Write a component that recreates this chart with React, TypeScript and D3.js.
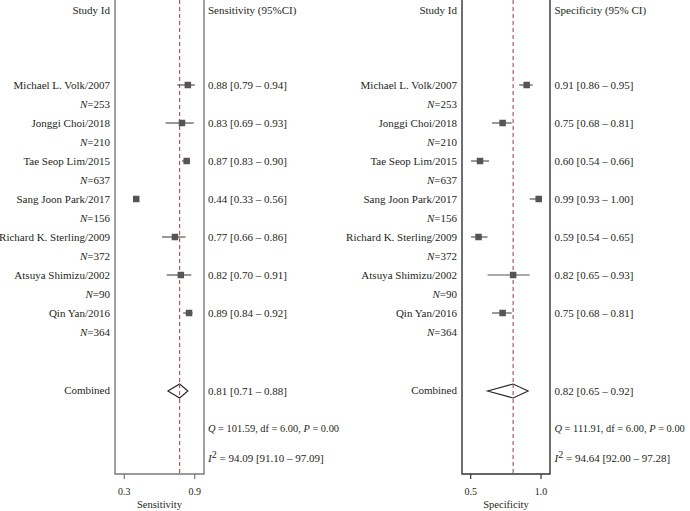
import React from "react";
import * as d3 from "d3";

const studies = [
  "Michael L. Volk/2007",
  "Jonggi Choi/2018",
  "Tae Seop Lim/2015",
  "Sang Joon Park/2017",
  "Richard K. Sterling/2009",
  "Atsuya Shimizu/2002",
  "Qin Yan/2016",
];
const sampleSizes = [253, 210, 637, 156, 372, 90, 364];

const sensitivity = [0.88, 0.83, 0.87, 0.44, 0.77, 0.82, 0.89];
const sensLower = [0.79, 0.69, 0.83, 0.33, 0.66, 0.7, 0.84];
const sensUpper = [0.94, 0.93, 0.9, 0.56, 0.86, 0.91, 0.92];
const sensWhiskerShown = [true, true, true, false, true, true, true];
const sensPooled = [0.81, 0.71, 0.88];
const sensHeterogeneity = [101.59, 6.0, 0.0];
const sensI2 = [94.09, 91.1, 97.09];
const sensTicks = [0.3, 0.9];

const specificity = [0.91, 0.75, 0.6, 0.99, 0.59, 0.82, 0.75];
const specLower = [0.86, 0.68, 0.54, 0.93, 0.54, 0.65, 0.68];
const specUpper = [0.95, 0.81, 0.66, 1.0, 0.65, 0.93, 0.81];
const specWhiskerShown = [true, true, true, true, true, true, true];
const specPooled = [0.82, 0.65, 0.92];
const specHeterogeneity = [111.91, 6.0, 0.0];
const specI2 = [94.64, 92.0, 97.28];
const specTicks = [0.5, 1.0];

const f2 = d3.format(".2f");
const FONT = "'Liberation Serif', 'DejaVu Serif', serif";
const TEXT = "#231f20";

type PanelProps = {
  est: number[];
  lo: number[];
  hi: number[];
  whisker: boolean[];
  pooled: number[];
  het: number[];
  i2: number[];
  ticks: number[];
  header: string;
  axisTitle: string;
  labelX: number;
  boxL: number;
  boxR: number;
  textX: number;
  axisRange: [number, number];
  markRange: [number, number];
  boxColor: string;
};

function Panel(p: PanelProps) {
  const dom: [number, number] = [p.ticks[0], p.ticks[p.ticks.length - 1]];
  const axisX = d3.scaleLinear().domain(dom).range(p.axisRange);
  const x = d3.scaleLinear().domain(dom).range(p.markRange);
  const rowY = d3.scaleLinear().domain([0, 1]).range([85, 123]);
  const bottom = 474;
  const combY = 391;
  const sq = 6.5;
  const pooledX = x(p.pooled[0]);
  const diamond = d3.line()([
    [x(p.pooled[1]), combY],
    [pooledX, combY - 7],
    [x(p.pooled[2]), combY],
    [pooledX, combY + 7],
  ]) + "Z";

  return (
    <g fontFamily={FONT} fill={TEXT}>
      <text x={p.labelX} y={14} fontSize={11} textAnchor="end">Study Id</text>
      <text x={p.textX} y={14} fontSize={11}>{p.header}</text>

      <path
        d={`M${p.boxL},0V${bottom}H${p.boxR}V0`}
        fill="none"
        stroke={p.boxColor}
        strokeWidth={1.4}
      />
      <line
        x1={pooledX}
        x2={pooledX}
        y1={0}
        y2={bottom}
        stroke="#a2504a"
        strokeWidth={1.1}
        strokeDasharray="4,3"
      />

      {studies.map((s, i) => {
        const y = rowY(i);
        return (
          <g key={s}>
            <text x={p.labelX} y={y + 4} fontSize={11} textAnchor="end">{s}</text>
            <text x={p.labelX} y={y + 23} fontSize={11} textAnchor="end">
              <tspan fontStyle="italic">N</tspan>={sampleSizes[i]}
            </text>
            {p.whisker[i] && (
              <line x1={x(p.lo[i])} x2={x(p.hi[i])} y1={y} y2={y} stroke="#555" strokeWidth={1.2} />
            )}
            <rect x={x(p.est[i]) - sq / 2} y={y - sq / 2} width={sq} height={sq} fill="#555" />
            <text x={p.textX} y={y + 4} fontSize={11}>
              {`${f2(p.est[i])} [${f2(p.lo[i])} – ${f2(p.hi[i])}]`}
            </text>
          </g>
        );
      })}

      <text x={p.labelX} y={combY + 3} fontSize={11} textAnchor="end">Combined</text>
      <path d={diamond} fill="white" stroke="#222" strokeWidth={1.1} />
      <line x1={pooledX} x2={pooledX} y1={combY - 7} y2={combY + 7} stroke="#a2504a" strokeWidth={1.1} strokeDasharray="4,3" />
      <text x={p.textX} y={combY + 4} fontSize={11}>
        {`${f2(p.pooled[0])} [${f2(p.pooled[1])} – ${f2(p.pooled[2])}]`}
      </text>
      <text x={p.textX} y={432} fontSize={10.4}>
        <tspan fontStyle="italic">Q</tspan>
        {` = ${f2(p.het[0])}, df = ${f2(p.het[1])}, `}
        <tspan fontStyle="italic">P</tspan>
        {` = ${f2(p.het[2])}`}
      </text>
      <text x={p.textX} y={462} fontSize={11}>
        <tspan fontStyle="italic">I</tspan>
        <tspan dy={-4} fontSize={10}>2</tspan>
        <tspan dy={4}>{` = ${f2(p.i2[0])} [${f2(p.i2[1])} – ${f2(p.i2[2])}]`}</tspan>
      </text>

      {p.ticks.map((t) => (
        <g key={t}>
          <line x1={axisX(t)} x2={axisX(t)} y1={bottom} y2={bottom + 5} stroke={p.boxColor} strokeWidth={1.2} />
          <text x={axisX(t)} y={495} fontSize={10} textAnchor="middle">{d3.format(".1f")(t)}</text>
        </g>
      ))}
      <text x={(p.boxL + p.boxR) / 2} y={508} fontSize={10.5} textAnchor="middle">{p.axisTitle}</text>
    </g>
  );
}

export default function App() {
  return (
    <svg
      width={690}
      height={511}
      style={{ position: "absolute", left: 0, top: 0, background: "white" }}
    >
      <rect width={690} height={511} fill="white" />
      <Panel
        est={sensitivity}
        lo={sensLower}
        hi={sensUpper}
        whisker={sensWhiskerShown}
        pooled={sensPooled}
        het={sensHeterogeneity}
        i2={sensI2}
        ticks={sensTicks}
        header="Sensitivity (95%CI)"
        axisTitle="Sensitivity"
        labelX={110}
        boxL={115}
        boxR={204}
        textX={208}
        axisRange={[124.3, 194.7]}
        markRange={[119.8, 190.2]}
        boxColor="#7a7a7a"
      />
      <Panel
        est={specificity}
        lo={specLower}
        hi={specUpper}
        whisker={specWhiskerShown}
        pooled={specPooled}
        het={specHeterogeneity}
        i2={specI2}
        ticks={specTicks}
        header="Specificity (95% CI)"
        axisTitle="Specificity"
        labelX={457}
        boxL={462}
        boxR={550}
        textX={554.5}
        axisRange={[470.7, 541]}
        markRange={[465, 540.2]}
        boxColor="#333"
      />
    </svg>
  );
}
